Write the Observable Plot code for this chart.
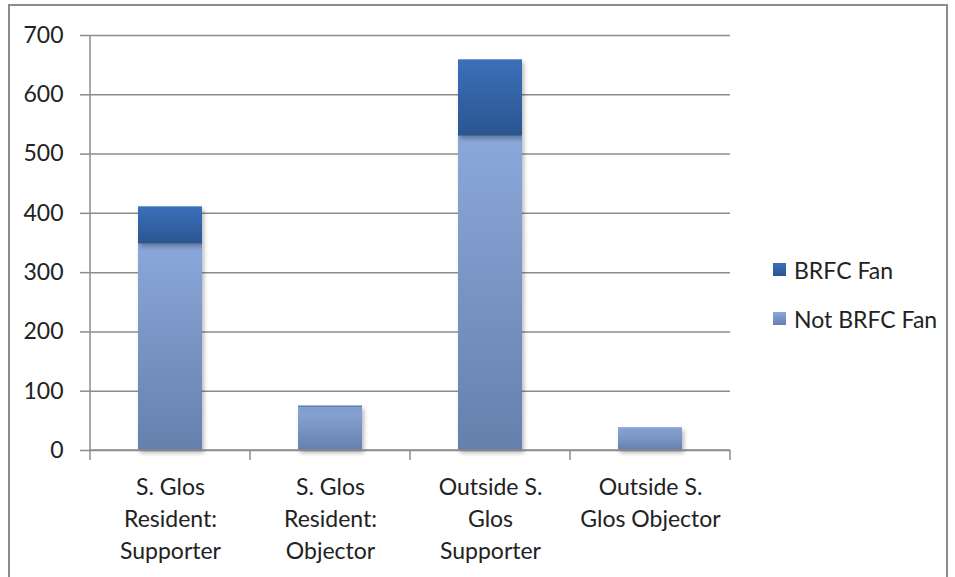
<!DOCTYPE html>
<html>
<head>
<meta charset="utf-8">
<script src="https://cdn.jsdelivr.net/npm/d3@7"></script>
<script src="https://cdn.jsdelivr.net/npm/@observablehq/plot@0.6"></script>
<style>
  html, body { margin: 0; padding: 0; background: #fff; width: 955px; height: 577px; overflow: hidden; }
  #frame { position: absolute; left: 8px; top: 4px; width: 940px; height: 600px; border: 2px solid #8c8c8c; box-sizing: border-box; }
  #chart { position: absolute; left: 0; top: 0; }
  #legend { position: absolute; left: 773px; top: 245px; font-family: Lato, sans-serif; font-size: 23px; color: #222; }
  .item { display: flex; align-items: center; height: 49px; }
  .sw { width: 13px; height: 13px; margin-right: 8px; }
</style>
</head>
<body>
<svg width="0" height="0" style="position:absolute">
  <defs>
    <linearGradient id="gFan" x1="0" y1="0" x2="0" y2="1">
      <stop offset="0" stop-color="#3b70ba"/>
      <stop offset="1" stop-color="#2b5590"/>
    </linearGradient>
    <linearGradient id="gNot" x1="0" y1="0" x2="0" y2="1">
      <stop offset="0" stop-color="#8aa8da"/>
      <stop offset="1" stop-color="#6680ad"/>
    </linearGradient>
  </defs>
</svg>
<div id="frame"></div>
<div id="chart"></div>
<div id="legend">
  <div class="item"><div class="sw" style="background:linear-gradient(#3b70ba,#2b5590)"></div>BRFC Fan</div>
  <div class="item"><div class="sw" style="background:linear-gradient(#8aa8da,#6680ad)"></div>Not BRFC Fan</div>
</div>
<script>
const categories = ["S. Glos Resident: Supporter", "S. Glos Resident: Objector", "Outside S. Glos Supporter", "Outside S. Glos Objector"];
const categoryLabels = ["S. Glos\nResident:\nSupporter", "S. Glos\nResident:\nObjector", "Outside S.\nGlos\nSupporter", "Outside S.\nGlos Objector"];
const series = ["Not BRFC Fan", "BRFC Fan"];
const notFan = [348, 73, 530, 37];
const fan = [63, 2, 129, 1];
const yTicks = [0, 100, 200, 300, 400, 500, 600, 700];

const data = [];
categories.forEach((c, i) => {
  data.push({cat: c, series: "Not BRFC Fan", value: notFan[i]});
  data.push({cat: c, series: "BRFC Fan", value: fan[i]});
});
const labelOf = new Map(categories.map((c, i) => [c, categoryLabels[i]]));

const boundaries = (index, scales, values, dims) => {
  const x = scales.x;
  const bw = x.bandwidth ? x.bandwidth() : 0;
  const starts = categories.map(c => x(c));
  const left = dims.marginLeft, right = dims.width - dims.marginRight;
  const bottom = dims.height - dims.marginBottom, top = dims.marginTop;
  const xs = [left];
  for (let i = 1; i < starts.length; i++) xs.push((starts[i - 1] + starts[i]) / 2 + bw / 2);
  xs.push(right);
  const g = d3.create("svg:g").attr("stroke", "#8c8c8c").attr("stroke-width", 1.5);
  g.append("line").attr("x1", left).attr("x2", left).attr("y1", top).attr("y2", bottom);
  g.append("line").attr("x1", left).attr("x2", right).attr("y1", bottom).attr("y2", bottom);
  for (const bx of xs) g.append("line").attr("x1", bx).attr("x2", bx).attr("y1", bottom).attr("y2", bottom + 10);
  return g.node();
};

const plot = Plot.plot({
  width: 760,
  height: 577,
  marginLeft: 90,
  marginRight: 30,
  marginTop: 35,
  marginBottom: 127,
  style: {fontFamily: "Lato, sans-serif", fontSize: "23px", color: "#222", background: "transparent"},
  x: {domain: categories, paddingInner: 0.6, paddingOuter: 0.3, label: null},
  y: {domain: [0, 700], label: null},
  color: {type: "ordinal", domain: ["BRFC Fan", "Not BRFC Fan"], range: ["url(#gFan)", "url(#gNot)"]},
  marks: [
    Plot.gridY(yTicks, {stroke: "#8c8c8c", strokeOpacity: 1, strokeWidth: 1.5}),
    Plot.axisY(yTicks, {tickSize: 10, tickPadding: 17, stroke: "#8c8c8c", strokeWidth: 1.5, fill: "#222", fontSize: 23}),
    Plot.axisX({tickSize: 0, tickPadding: 22, tickFormat: d => labelOf.get(d), lineHeight: 1.39, fontSize: 23, fill: "#222"}),
    Plot.barY(data, Plot.stackY({x: "cat", y: "value", fill: "series", order: series})),
    boundaries
  ]
});
plot.querySelectorAll("rect").forEach(r => r.style.filter = "drop-shadow(2px 3px 2px rgba(0,0,0,0.28))");
document.getElementById("chart").appendChild(plot);
</script>
</body>
</html>
